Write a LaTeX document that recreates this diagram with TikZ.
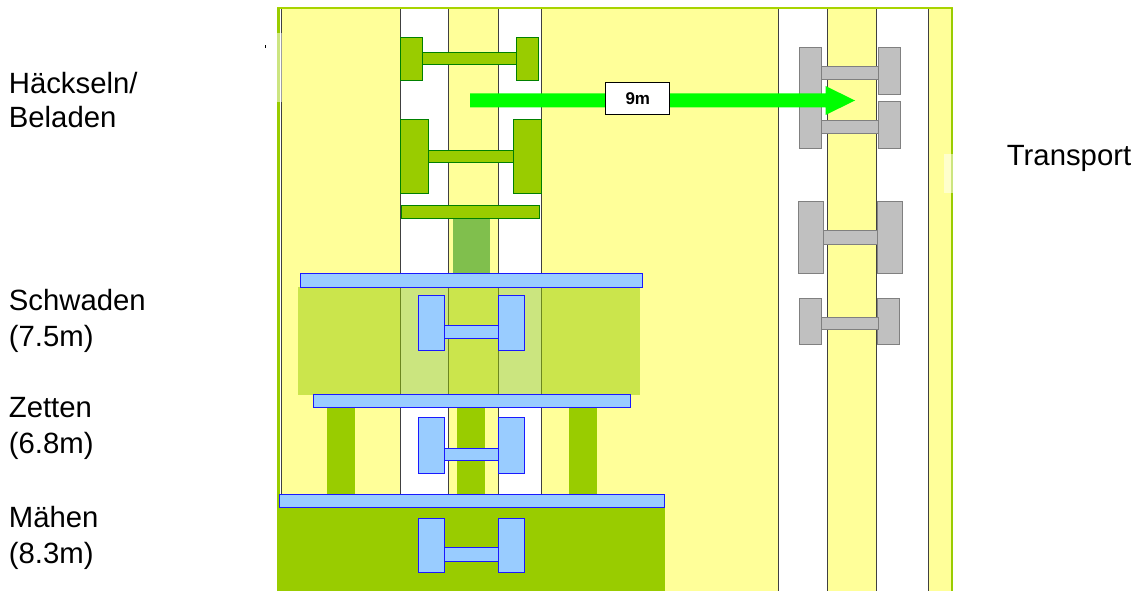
\documentclass[tikz,border=0pt]{standalone}
\usepackage{fontspec}
\setmainfont{Liberation Sans}
\definecolor{fieldY}{HTML}{FFFF99}
\definecolor{grass}{HTML}{99CC00}
\definecolor{wheelB}{HTML}{99CCFF}
\definecolor{wheelG}{HTML}{C0C0C0}
\tikzset{
  yellowbg/.style={fill=fieldY,draw=none},
  whitebg/.style={fill=white,draw=none},
  laneline/.style={draw=black!75,line width=1pt},
  gmach/.style={fill=grass,draw=green!50!black,line width=.95pt},
  bmach/.style={fill=wheelB,draw=blue!90!white,line width=.95pt},
  gray mach/.style={fill=wheelG,draw=black!50,line width=.95pt},
  swath/.style={fill=grass,draw=none},
  label/.style={anchor=north west,align=left,inner sep=0pt},
}
\newcommand{\lblfont}[1]{\fontsize{29.3}{#1}\selectfont}
\begin{document}
\begin{tikzpicture}[x=1pt,y=-1pt]
\useasboundingbox (0,0) rectangle (1135,591);
% field
\fill[yellowbg] (281,9) rectangle (951,591);
\fill[whitebg] (400,9) rectangle (448,591);
\fill[whitebg] (498,9) rectangle (541,591);
\fill[whitebg] (778,9) rectangle (827,591);
\fill[whitebg] (876,9) rectangle (928,591);
\foreach \x in {281,400,448,498,541,778,827,876,928}
  \draw[laneline] (\x,9) -- (\x,591);
% frame
\fill[grass!85!yellow] (277,7.5) rectangle (953,9.5);
\fill[grass] (277,8) rectangle (280,591);
\fill[grass] (950.7,8) rectangle (953,591);
\fill[white,opacity=.5] (277,33) rectangle (281.5,102);
\fill[white,opacity=.5] (944,154) rectangle (953,193);
\draw[black,line width=.6pt] (265.3,45.5) -- (265.3,48.5);
% swaths
\fill[color={rgb,255:red,128;green,191;blue,77}] (453,218) rectangle (490,273);
\fill[swath,opacity=.5] (298,287) rectangle (640,395);
\fill[swath] (327,407) rectangle (355,494);
\fill[swath] (457,407) rectangle (485,494);
\fill[swath] (569,407) rectangle (597,494);
\fill[swath] (277,507) rectangle (665,591);
% forage harvester (green)
\draw[gmach] (400.5,37) rectangle (422.5,80);
\draw[gmach] (516.5,37) rectangle (538.5,80);
\draw[gmach] (422.5,52) rectangle (516.5,64);
\draw[gmach] (400.5,119) rectangle (428,193);
\draw[gmach] (513,119) rectangle (541,193);
\draw[gmach] (428,150) rectangle (513,162.5);
\draw[gmach] (401.5,205.5) rectangle (539.5,218);
% blue machines
\draw[bmach] (300,273.5) rectangle (642,287);
\draw[bmach] (418.5,295.5) rectangle (444.5,350);
\draw[bmach] (498.5,295.5) rectangle (524,350);
\draw[bmach] (444.5,325) rectangle (498.5,338.5);
\draw[bmach] (313.5,394) rectangle (630.5,407.5);
\draw[bmach] (418.5,417.5) rectangle (444.5,473);
\draw[bmach] (498.5,417.5) rectangle (524,473);
\draw[bmach] (444.5,448) rectangle (498.5,460.5);
\draw[bmach] (279.5,494.5) rectangle (664,507);
\draw[bmach] (418.5,518) rectangle (444.5,572.5);
\draw[bmach] (498.5,518) rectangle (524,572.5);
\draw[bmach] (444.5,547.5) rectangle (498.5,561);
% transport (grey)
\draw[gray mach] (799.5,47) rectangle (821.5,148);
\draw[gray mach] (878.5,47) rectangle (900.5,94);
\draw[gray mach] (878.5,101) rectangle (900.5,148);
\draw[gray mach] (821.5,66.5) rectangle (878.5,79);
\draw[gray mach] (821.5,120.5) rectangle (878.5,133);
\draw[gray mach] (798.5,201) rectangle (823.5,273);
\draw[gray mach] (877,201) rectangle (902.5,273);
\draw[gray mach] (823.5,230) rectangle (877,244);
\draw[gray mach] (799.5,298) rectangle (821.5,344);
\draw[gray mach] (877,298) rectangle (899,344);
\draw[gray mach] (821.5,317) rectangle (878,329.5);
% arrow
\fill[color={rgb,255:red,0;green,255;blue,0}] (470,93.5) -- (825.5,93.5) -- (825.5,86) -- (855,100.5) -- (825.5,115) -- (825.5,107.5) -- (470,107.5) -- cycle;
\node[draw=black,fill=white,line width=1pt,minimum width=64pt,minimum height=32pt,inner sep=0pt,font=\fontsize{17}{17}\selectfont\bfseries] (dist) at (637.8,98.5) {9m};
% labels
\node[label,font=\lblfont{34}] (haecks) at (8.7,72.5) {Häckseln/\\Beladen};
\node[label,font=\lblfont{36}] (schwad) at (8.7,289) {Schwaden\\(7.5m)};
\node[label,font=\lblfont{36}] (zetten) at (8.7,397) {Zetten\\(6.8m)};
\node[label,font=\lblfont{36}] (maehen) at (8.7,505.6) {Mähen\\(8.3m)};
\node[label,font=\lblfont{36}] (transp) at (1006.7,145) {Transport};
\end{tikzpicture}
\end{document}
